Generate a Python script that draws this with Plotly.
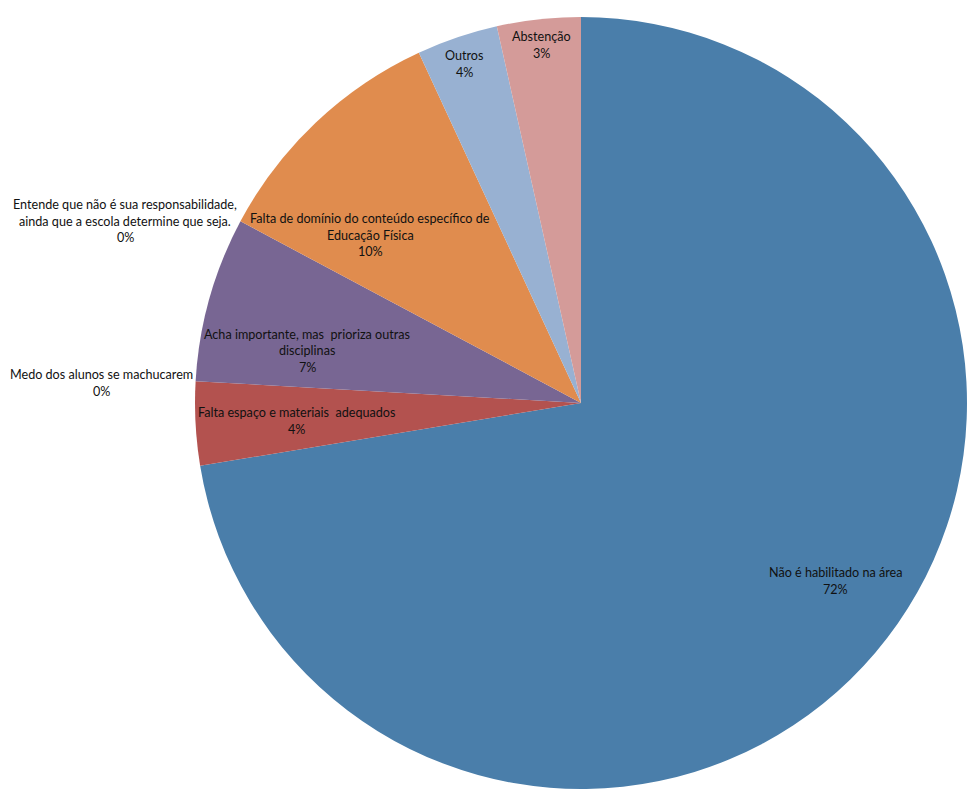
import plotly.graph_objects as go

# ---- data ----
categories = [
    "Não é habilitado na área",
    "Falta espaço e materiais  adequados",
    "Medo dos alunos se machucarem",
    "Acha importante, mas  prioriza outras<br>disciplinas",
    "Entende que não é sua responsabilidade,<br>ainda que a escola determine que seja.",
    "Falta de domínio do conteúdo específico de<br>Educação Física",
    "Outros",
    "Abstenção",
]
values = [72.4, 3.5, 0, 6.9, 0, 10.3, 3.4, 3.5]
pct_labels = ["72%", "4%", "0%", "7%", "0%", "10%", "4%", "3%"]

# ---- style ----
colors = ["#4A7EAA", "#B3524F", "#A0A0A0", "#786693", "#C0C0C0",
          "#E08C4E", "#98B1D2", "#D49B99"]

W, H = 977, 801
cx, cy, R = 581, 403, 386
LINE = 16.3

# label block centres in pixels (layout only)
label_pos = [
    (835, 581),
    (296, 421),
    (101, 383),
    (307, 351),
    (125, 221),
    (370, 235),
    (464, 64),
    (541, 45),
]

fig = go.Figure(go.Pie(
    labels=[c.replace("<br>", " ") for c in categories],
    values=values,
    sort=False,
    direction="clockwise",
    rotation=0,
    marker=dict(colors=colors, line=dict(width=0)),
    textinfo="none",
    hoverinfo="label+percent",
    domain=dict(x=[(cx - R) / W, (cx + R) / W],
                y=[1 - (cy + R) / H, 1 - (cy - R) / H]),
    showlegend=False,
))

for cat, pct, (px, py) in zip(categories, pct_labels, label_pos):
    lines = cat.split("<br>") + [pct]
    n = len(lines)
    for i, ln in enumerate(lines):
        ly = py + (i - (n - 1) / 2) * LINE
        fig.add_annotation(
            x=px / W, y=1 - ly / H, xref="paper", yref="paper",
            text=ln, showarrow=False,
            xanchor="center", yanchor="middle", align="center",
            font=dict(family="Lato", size=12.6, color="#111111"),
        )

fig.update_layout(
    width=W, height=H,
    margin=dict(l=0, r=0, t=0, b=0),
    paper_bgcolor="white", plot_bgcolor="white",
)

fig.write_html("out.html")
